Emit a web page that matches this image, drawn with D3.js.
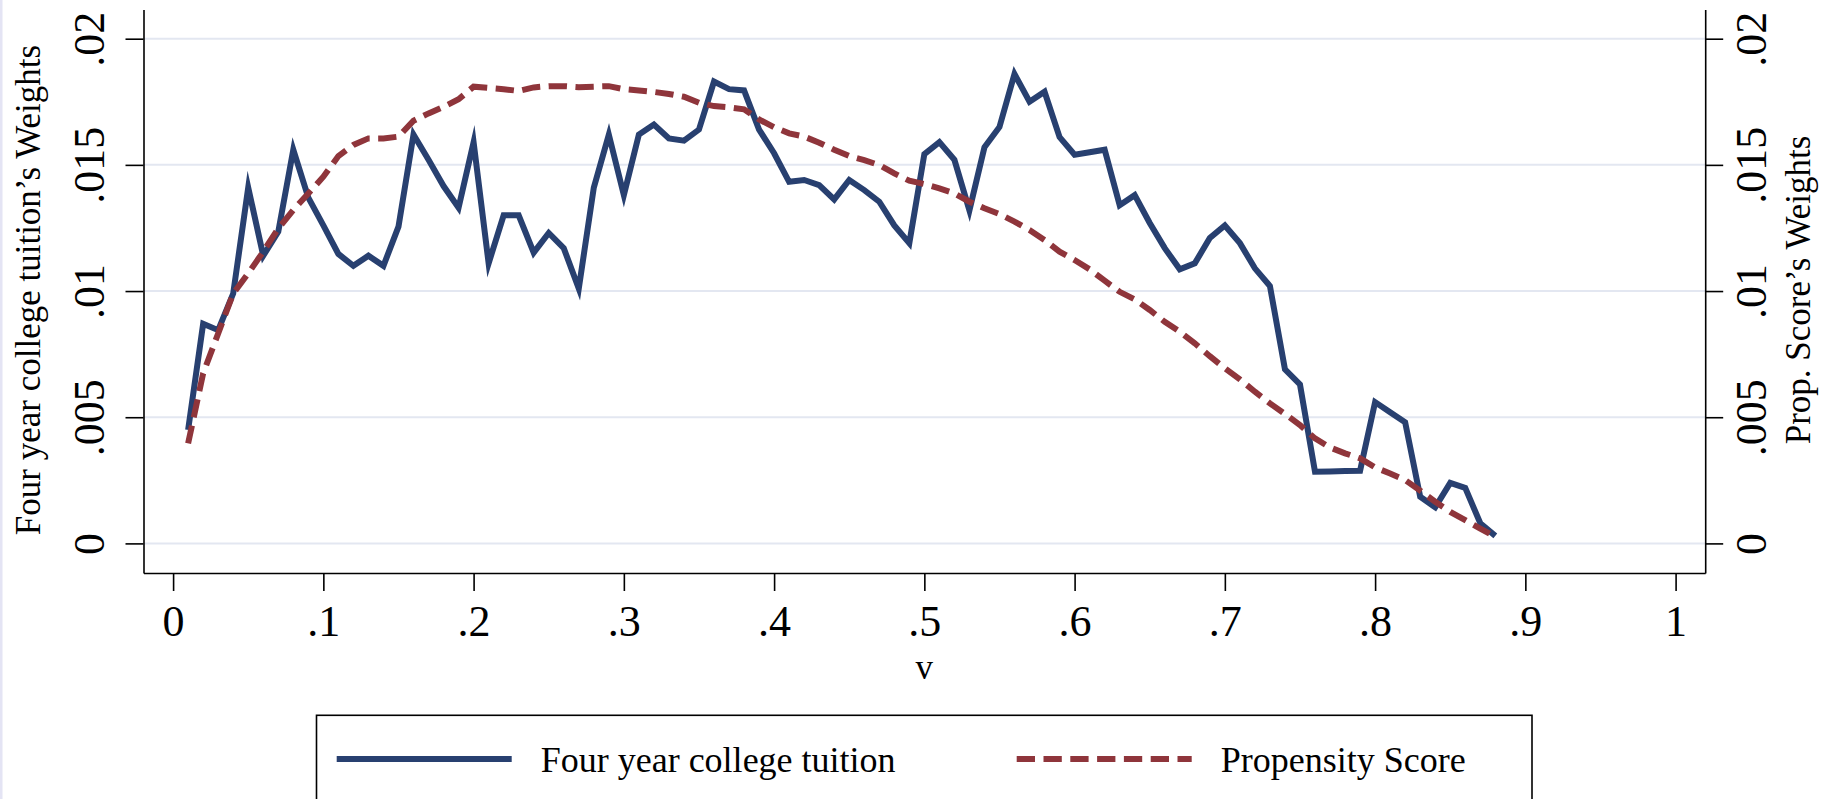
<!DOCTYPE html>
<html>
<head>
<meta charset="utf-8">
<script src="https://cdn.jsdelivr.net/npm/d3@7"></script>
<style>
  html, body { margin: 0; padding: 0; background: #fff; }
  svg { display: block; font-family: "Liberation Serif", "Times New Roman", serif; }
</style>
</head>
<body>
<div id="chart"></div>
<script>
// v grid the weights are evaluated on
var vValues = [0.01, 0.02, 0.03, 0.04, 0.05, 0.06, 0.07, 0.08, 0.09, 0.10,
    0.11, 0.12, 0.13, 0.14, 0.15, 0.16, 0.17, 0.18, 0.19, 0.20,
    0.21, 0.22, 0.23, 0.24, 0.25, 0.26, 0.27, 0.28, 0.29, 0.30,
    0.31, 0.32, 0.33, 0.34, 0.35, 0.36, 0.37, 0.38, 0.39, 0.40,
    0.41, 0.42, 0.43, 0.44, 0.45, 0.46, 0.47, 0.48, 0.49, 0.50,
    0.51, 0.52, 0.53, 0.54, 0.55, 0.56, 0.57, 0.58, 0.59, 0.60,
    0.61, 0.62, 0.63, 0.64, 0.65, 0.66, 0.67, 0.68, 0.69, 0.70,
    0.71, 0.72, 0.73, 0.74, 0.75, 0.76, 0.77, 0.78, 0.79, 0.80,
    0.81, 0.82, 0.83, 0.84, 0.85, 0.86, 0.87, 0.88];

// Four year college tuition's weights
var tuitionWeights = [0.0045, 0.0087, 0.00845, 0.0099, 0.0141, 0.0114, 0.01235, 0.0156, 0.0137, 0.0126,
    0.01147, 0.0110, 0.0114, 0.0110, 0.01255, 0.0162, 0.0152, 0.01416, 0.0133, 0.0159,
    0.0111, 0.0130, 0.0130, 0.01152, 0.0123, 0.0117, 0.0101, 0.0141, 0.0162, 0.0138,
    0.0162, 0.0166, 0.01605, 0.01596, 0.0164, 0.0183, 0.0180, 0.01795, 0.0164, 0.01546,
    0.01433, 0.0144, 0.0142, 0.01363, 0.0144, 0.0140, 0.01354, 0.0126, 0.0119, 0.01543,
    0.0159, 0.0152, 0.0132, 0.0157, 0.0165, 0.0186, 0.0175, 0.0179, 0.0161, 0.0154,
    0.0155, 0.0156, 0.0134, 0.0138, 0.0127, 0.0117, 0.01086, 0.0111, 0.0121, 0.0126,
    0.0119, 0.0109, 0.0102, 0.0069, 0.0063, 0.00284, 0.00285, 0.00287, 0.00288, 0.0056,
    0.0052, 0.0048, 0.00185, 0.00143, 0.0024, 0.0022, 0.0008, 0.0003];

// Propensity score's weights
var pscoreWeights = [0.00396, 0.00674, 0.00832, 0.0099, 0.0107, 0.01156, 0.01248, 0.01321, 0.01387, 0.01453,
    0.01535, 0.01579, 0.01605, 0.01605, 0.01612, 0.01675, 0.01704, 0.0173, 0.0176, 0.0181,
    0.01805, 0.018, 0.01793, 0.01807, 0.01812, 0.01812, 0.01808, 0.0181, 0.01812, 0.018,
    0.01795, 0.01789, 0.01781, 0.0177, 0.01746, 0.01733, 0.01728, 0.0172, 0.0168, 0.01649,
    0.01625, 0.01612, 0.01588, 0.0156, 0.01535, 0.01519, 0.01499, 0.01466, 0.01437, 0.01424,
    0.01407, 0.01387, 0.01354, 0.01328, 0.01305, 0.01275, 0.01242, 0.01202, 0.01156, 0.01123,
    0.01086, 0.01041, 0.00997, 0.00967, 0.00925, 0.00878, 0.00839, 0.00793, 0.00742, 0.00694,
    0.0065, 0.00601, 0.00555, 0.00513, 0.00469, 0.00416, 0.0038, 0.00357, 0.00337, 0.00301,
    0.00277, 0.00251, 0.00209, 0.00165, 0.00125, 0.00092, 0.00059, 0.00026];

var xTicks = [0, 0.1, 0.2, 0.3, 0.4, 0.5, 0.6, 0.7, 0.8, 0.9, 1];
var yTicks = [0, 0.005, 0.01, 0.015, 0.02];
var seriesNames = ["Four year college tuition", "Propensity Score"];

var width = 1835,
    height = 799;
var plot = {left: 143.5, right: 1705.2, top: 9.6, bottom: 573};
var navy = "#284070",
    maroon = "#8f353b";

// Stata style labels: .02 instead of 0.02
function fmt(d) {
    return d === 0 ? "0" : String(d).replace(/^0\./, ".");
}

var svg = d3.select("#chart")
  .append("svg")
    .attr("width", width)
    .attr("height", height);

svg.append("rect")
    .attr("width", width)
    .attr("height", height)
    .attr("fill", "#fff");

// thin lavender edge on the left of the picture
svg.append("rect")
    .attr("x", 0)
    .attr("width", 2.5)
    .attr("height", height)
    .attr("fill", "#e4e4f4");

// Scales cover the whole plot region (a bit beyond the ticks)
var x = d3.scaleLinear()
    .domain([-0.0197, 1.0197])
    .range([plot.left, plot.right]);

var y = d3.scaleLinear()
    .domain([-0.001173, 0.021153])
    .range([plot.bottom, plot.top]);

// Gridlines
svg.append("g")
    .selectAll("line")
    .data(yTicks)
    .enter()
  .append("line")
    .attr("x1", plot.left)
    .attr("x2", plot.right)
    .attr("y1", function(d) { return y(d); })
    .attr("y2", function(d) { return y(d); })
    .attr("stroke", "#e3e7f1")
    .attr("stroke-width", 2);

// Left axis, labels turned on their side
var left = svg.append("g")
    .attr("transform", "translate(" + plot.left + ",0)")
    .call(d3.axisLeft(y).tickValues(yTicks).tickFormat(fmt).tickSize(18).tickSizeOuter(0));

left.selectAll(".tick text")
    .attr("transform", "rotate(-90)")
    .attr("x", 0)
    .attr("y", -40)
    .attr("dy", 0)
    .attr("text-anchor", "middle");

// Right axis
var right = svg.append("g")
    .attr("transform", "translate(" + plot.right + ",0)")
    .call(d3.axisRight(y).tickValues(yTicks).tickFormat(fmt).tickSize(18).tickSizeOuter(0));

right.selectAll(".tick text")
    .attr("transform", "rotate(-90)")
    .attr("x", 0)
    .attr("y", 61)
    .attr("dy", 0)
    .attr("text-anchor", "middle");

// Bottom axis
var bottom = svg.append("g")
    .attr("transform", "translate(0," + plot.bottom + ")")
    .call(d3.axisBottom(x).tickValues(xTicks).tickFormat(fmt).tickSize(18).tickSizeOuter(0));

bottom.selectAll(".tick text")
    .attr("y", 62.7)
    .attr("dy", 0);

[left, right, bottom].forEach(function(g) {
    g.selectAll(".domain").attr("stroke", "#000").attr("stroke-width", 1.6);
    g.selectAll(".tick line").attr("stroke", "#000").attr("stroke-width", 1.6);
    g.selectAll(".tick text")
        .attr("fill", "#000")
        .style("font-family", "Liberation Serif")
        .style("font-size", "44px");
});

// Axis titles
svg.append("text")
    .attr("transform", "translate(39.5,290) rotate(-90)")
    .attr("text-anchor", "middle")
    .style("font-size", "35px")
    .text("Four year college tuition\u2019s Weights");

svg.append("text")
    .attr("transform", "translate(1809.6,290) rotate(-90)")
    .attr("text-anchor", "middle")
    .style("font-size", "35px")
    .text("Prop. Score\u2019s Weights");

svg.append("text")
    .attr("x", (plot.left + plot.right) / 2)
    .attr("y", 679)
    .attr("text-anchor", "middle")
    .style("font-size", "35px")
    .text("v");

// The two weight curves
var tuitionLine = d3.line()
    .x(function(d, i) { return x(vValues[i]); })
    .y(function(d) { return y(d); });

svg.append("path")
    .datum(tuitionWeights)
    .attr("d", tuitionLine)
    .attr("fill", "none")
    .attr("stroke", navy)
    .attr("stroke-width", 6)
    .attr("stroke-linejoin", "miter")
    .attr("stroke-miterlimit", 12);

svg.append("path")
    .datum(pscoreWeights)
    .attr("d", tuitionLine)
    .attr("fill", "none")
    .attr("stroke", maroon)
    .attr("stroke-width", 6)
    .attr("stroke-dasharray", "18.3,8.5")
    .attr("stroke-linejoin", "miter");

// Legend box, runs off the bottom of the picture
var legend = svg.append("g");

legend.append("rect")
    .attr("x", 316.5)
    .attr("y", 715.3)
    .attr("width", 1215.5)
    .attr("height", 120)
    .attr("fill", "#fff")
    .attr("stroke", "#000")
    .attr("stroke-width", 1.6);

var keys = [
    {x: 336.7, color: navy, dash: null},
    {x: 1016.7, color: maroon, dash: "18.3,8.5"}
];

keys.forEach(function(k, i) {
    legend.append("line")
        .attr("x1", k.x)
        .attr("x2", k.x + 175)
        .attr("y1", 759)
        .attr("y2", 759)
        .attr("stroke", k.color)
        .attr("stroke-width", 6)
        .attr("stroke-dasharray", k.dash);

    legend.append("text")
        .attr("x", k.x + 204)
        .attr("y", 772)
        .style("font-size", "36px")
        .text(seriesNames[i]);
});
</script>
</body>
</html>
